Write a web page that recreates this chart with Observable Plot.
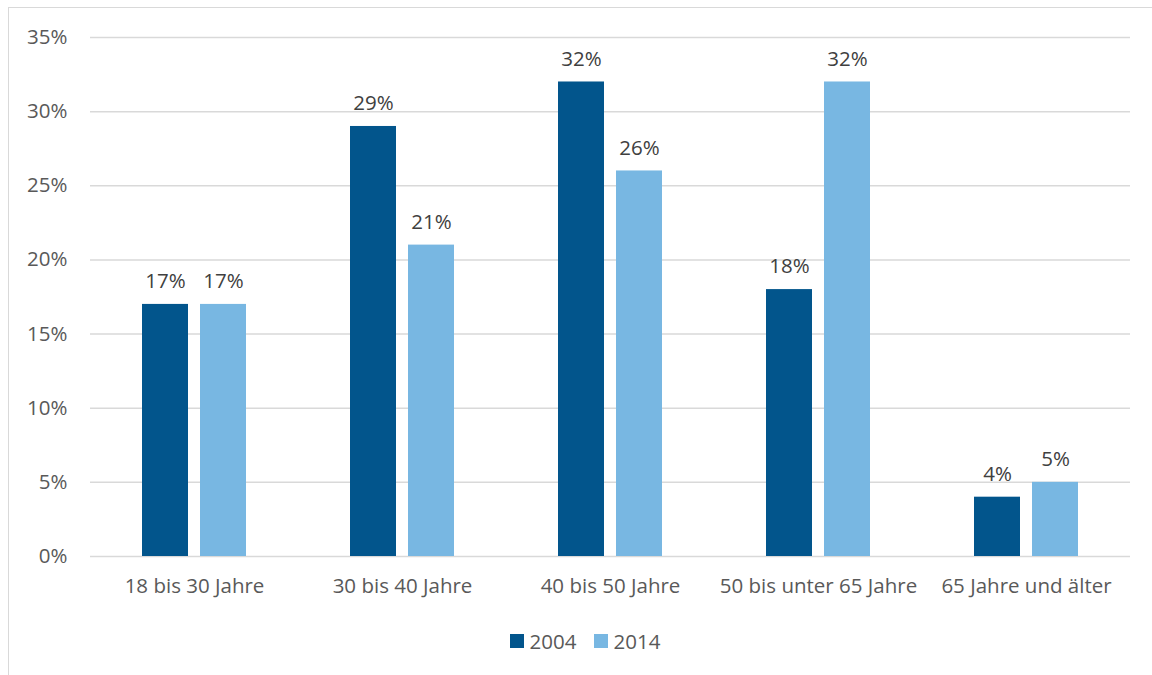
<!DOCTYPE html>
<html>
<head>
<meta charset="utf-8">
<script src="https://cdn.jsdelivr.net/npm/d3@7"></script>
<script src="https://cdn.jsdelivr.net/npm/@observablehq/plot@0.6"></script>
<style>
  html, body { margin: 0; padding: 0; background: #fff; }
  #wrap { position: relative; width: 1152px; height: 675px; overflow: hidden; font-family: "Open Sans", sans-serif; }
  #frame { position: absolute; left: 8px; top: 7px; width: 1160px; height: 700px; border: 1.5px solid #d9d9d9; box-sizing: border-box; }
  #chart { position: absolute; left: 0; top: 0; }
  #legend { position: absolute; left: 0; width: 1152px; top: 626px; display: flex; justify-content: center; gap: 17px; color: #595959; font-size: 20.5px; padding-left: 18px; box-sizing: border-box; line-height: 30px; }
  .item { display: flex; align-items: center; gap: 6px; }
  .sw { width: 14px; height: 14px; display: inline-block; }
</style>
</head>
<body>
<div id="wrap">
  <div id="frame"></div>
  <div id="chart"></div>
  <div id="legend"></div>
</div>
<script>
const groups = ["18 bis 30 Jahre", "30 bis 40 Jahre", "40 bis 50 Jahre", "50 bis unter 65 Jahre", "65 Jahre und älter"];
const years = ["2004", "2014"];
const values2004 = [17, 29, 32, 18, 4];
const values2014 = [17, 21, 26, 32, 5];
const yTicks = [0, 5, 10, 15, 20, 25, 30, 35];
const colors = ["#02558c", "#78b7e2"];

const data = groups.flatMap((g, i) => [
  {group: g, year: years[0], value: values2004[i]},
  {group: g, year: years[1], value: values2014[i]}
]);

const FS = 20.5;
const chart = Plot.plot({
  width: 1152,
  height: 600,
  marginTop: 37,
  marginLeft: 89,
  marginRight: 21,
  marginBottom: 44,
  style: {fontFamily: "'Open Sans', sans-serif", fontSize: FS + "px", color: "#595959", background: "transparent", overflow: "visible"},
  fx: {domain: groups, padding: 0, label: null},
  x: {domain: years, paddingInner: 0.203, paddingOuter: 0.868, axis: null},
  y: {domain: [0, 35], label: null},
  color: {domain: years, range: colors},
  marks: [
    Plot.gridY(yTicks, {stroke: "#d9d9d9", strokeOpacity: 1, strokeWidth: 1.5}),
    Plot.barY(data, {fx: "group", x: "year", y: "value", fill: "year"}),
    Plot.text(data, {fx: "group", x: "year", y: "value", text: d => d.value + "%", dy: -23, fill: "#404040", fontSize: FS}),
    Plot.axisY(yTicks, {tickSize: 0, tickPadding: 23, tickFormat: d => d + "%", label: null, fill: "#595959", fontSize: FS}),
    Plot.axisFx({anchor: "bottom", tickSize: 0, tickPadding: 22, label: null, fill: "#595959", fontSize: FS})
  ]
});
document.getElementById("chart").appendChild(chart);

const legend = document.getElementById("legend");
years.forEach((y, i) => {
  const item = document.createElement("div");
  item.className = "item";
  const sw = document.createElement("span");
  sw.className = "sw";
  sw.style.background = colors[i];
  const t = document.createElement("span");
  t.textContent = y;
  item.appendChild(sw);
  item.appendChild(t);
  legend.appendChild(item);
});
</script>
</body>
</html>
